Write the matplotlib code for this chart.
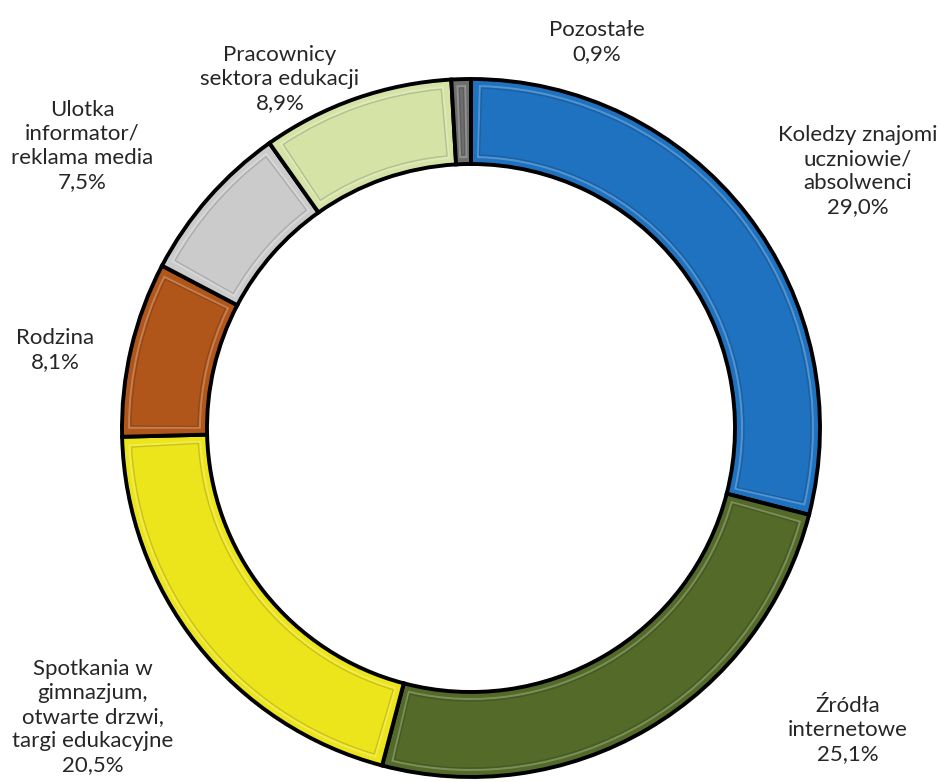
import matplotlib.pyplot as plt
from matplotlib.patches import Wedge
import matplotlib.colors as mcolors
import numpy as np

# share of answers, clockwise from 12 o'clock
labels = ['Koledzy znajomi\nuczniowie/\nabsolwenci', 'Źródła\ninternetowe',
          'Spotkania w\ngimnazjum,\notwarte drzwi,\ntargi edukacyjne', 'Rodzina',
          'Ulotka\ninformator/\nreklama media', 'Pracownicy\nsektora edukacji', 'Pozostałe']
values = [29.0, 25.1, 20.5, 8.1, 7.5, 8.9, 0.9]
colors = ['#1f72bf', '#536a29', '#ede51c', '#b0561a', '#cbcbcb', '#d5e3a6', '#6e6e6e']

# label block centres (figure pixels, y down)
label_xy = [(858, 171), (848, 730), (93, 717), (55, 350), (82, 146), (280, 79), (597, 42)]

W, H = 940, 782
fig = plt.figure(figsize=(W / 100, H / 100), dpi=100)
ax = fig.add_axes([0, 0, 1, 1])

cx, cy = 471, H - 428
R, ring = 349, 85

wedges, _ = ax.pie(values, colors=colors, startangle=90, counterclock=False,
                   radius=R, center=(cx, cy), frame=True,
                   wedgeprops=dict(width=ring, edgecolor='black', linewidth=2.8))
ax.set_xlim(0, W)
ax.set_ylim(0, H)
ax.set_aspect('equal')
ax.axis('off')

# bevel: lighter outline a few pixels inside each segment, darker one just inside it
inset = 7
for w, c in zip(wedges, colors):
    t1, t2 = w.theta1, w.theta2
    span = t2 - t1
    r_out = R - inset
    r_in = R - ring + inset
    da = np.degrees(inset / r_in)
    if span <= 2 * da + 0.5:
        da = span * 0.3
    base = mcolors.to_rgb(c)
    light = tuple(min(1, v + (1 - v) * 0.3) for v in base)
    dark = tuple(v * 0.7 for v in base)
    ax.add_patch(Wedge((cx, cy), r_out, t1 + da, t2 - da, width=r_out - r_in,
                       facecolor='none', edgecolor=light, linewidth=1.4, alpha=0.8))
    ax.add_patch(Wedge((cx, cy), r_out - 2, t1 + da + 0.3, t2 - da - 0.3,
                       width=r_out - r_in - 4, facecolor='none',
                       edgecolor=dark, linewidth=1.0, alpha=0.5))

for lab, v, (x, y) in zip(labels, values, label_xy):
    txt = lab + '\n' + ('%.1f%%' % v).replace('.', ',')
    ax.text(x, H - y, txt, ha='center', va='center', fontsize=16,
            family='Lato', color='#262626', linespacing=1.25)

fig.savefig('out.png', dpi=100, facecolor='white')
